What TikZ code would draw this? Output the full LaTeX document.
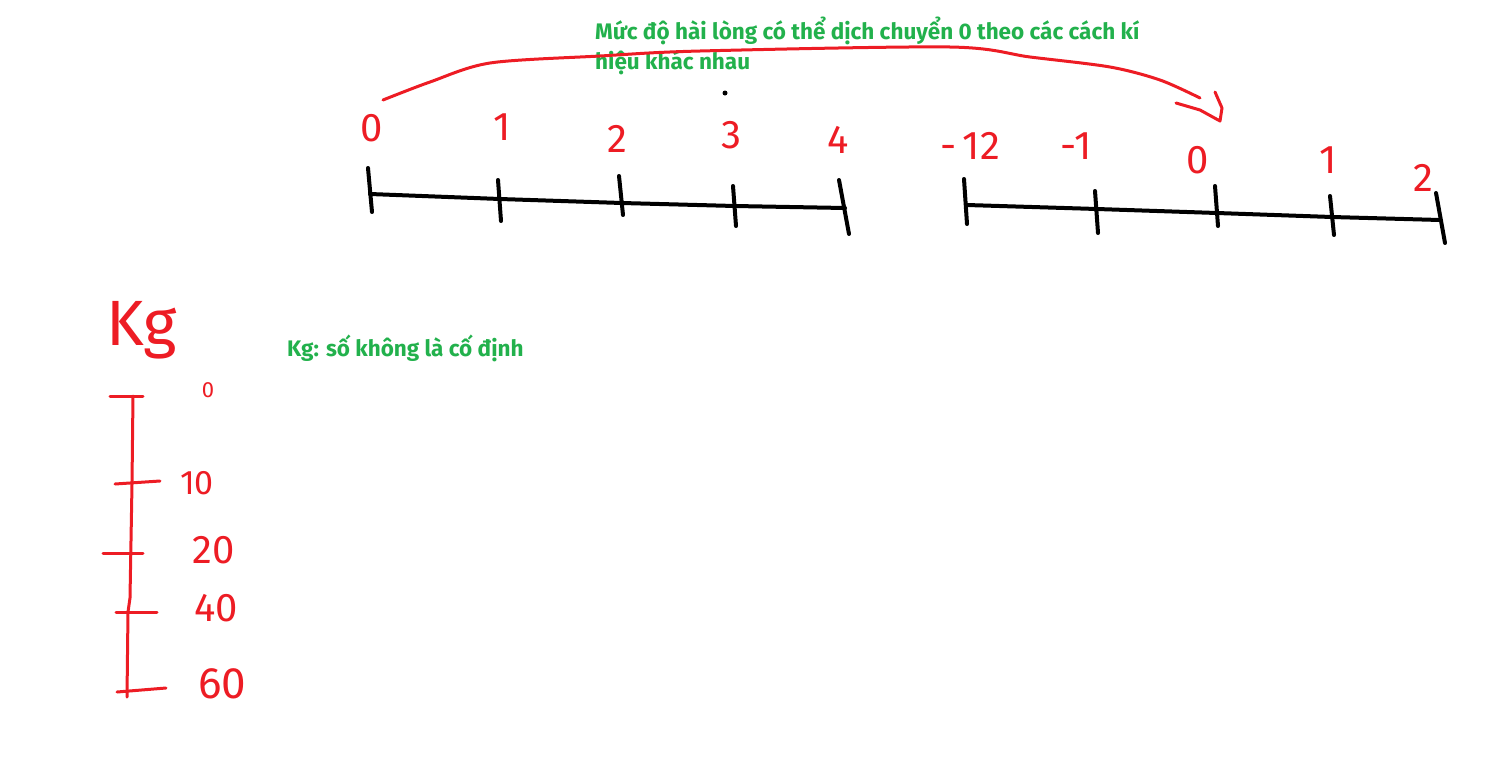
\documentclass[tikz,border=0pt]{standalone}
\usepackage{fontspec}
\setmainfont{Fira Sans}
\newfontfamily\handfont{Fira Sans}
\definecolor{pred}{HTML}{ED1C24}
\definecolor{pgreen}{HTML}{22B14C}
\tikzset{
  blk/.style={line width=4pt, black, line cap=round},
  redl/.style={line width=3pt, pred, line cap=round, line join=round},
  num/.style={text=pred, font=\handfont\fontsize{40}{40}\selectfont, inner sep=0pt},
  note/.style={text=pgreen, font=\bfseries\fontsize{22.5}{30}\selectfont, inner sep=0pt, align=left}
}
\begin{document}
\begin{tikzpicture}[x=1pt,y=-1pt]
\useasboundingbox (0,0) rectangle (1501,769);
% green notes
\node[note, anchor=north west] (note1) at (595,17) {Mức độ hài lòng có thể dịch chuyển 0 theo các cách kí\\hiệu khác nhau};
\node[note, anchor=west] (note2) at (287,348) {Kg: số không là cố định};
% first number line
\draw[blk] (370,194) -- (500,199) -- (622,203) -- (735,206) -- (845,208);
\draw[blk] (368,168) -- (372,212);
\draw[blk] (498,180) -- (501,221);
\draw[blk] (619,176) -- (623,215);
\draw[blk] (733,186) -- (736,226);
\draw[blk] (839,180) -- (849,234);
\node[num] (a0) at (372,128) {0};
\node[num] (a1) at (502,127) {1};
\node[num] (a2) at (617,139) {2};
\node[num] (a3) at (731,135) {3};
\node[num] (a4) at (838,140) {4};
\fill (725,93) circle (2.5);
% second number line
\draw[blk] (967,205) -- (1097,209) -- (1217,213) -- (1332,217) -- (1440,220);
\draw[blk] (964,179) -- (967,224);
\draw[blk] (1095,191) -- (1098,233);
\draw[blk] (1215,186) -- (1218,226);
\draw[blk] (1330,196) -- (1334,235);
\draw[blk] (1436,193) -- (1445,243);
\node[num] (bm2) at (970,146) {-\,12};
\node[num] (bm1) at (1076,146) {-1};
\node[num] (b0) at (1198,160) {0};
\node[num] (b1) at (1328,160) {1};
\node[num] (b2) at (1423,178) {2};
% arrow
\coordinate (arcS) at (383,100);
\coordinate (arcE) at (1220,121);
\draw[redl] plot[smooth, tension=0.5] coordinates {(arcS) (430,82) (490,63) (600,56) (700,51) (950,47) (1030,57) (1110,67) (1160,80) (1200,98)};
\draw[redl] (1176,103) -- (1200,110) -- (arcE) -- (1222,108) -- (1215,92);
% left vertical scale
\node[text=pred, font=\handfont\fontsize{64}{64}\selectfont, inner sep=0pt] (kg) at (142,330) {Kg};
\draw[redl] (133,396) -- (132,484) -- (130,598) -- (128,612) -- (127,697);
\draw[redl] (110,396) -- (143,396);
\draw[redl] (115,484) -- (160,481);
\draw[redl] (103,553) -- (143,553);
\draw[redl] (116,612) -- (157,612);
\draw[redl] (117,692) -- (166,688);
\node[num, font=\handfont\fontsize{22}{22}\selectfont] (c0) at (208,390) {0};
\node[num, font=\handfont\fontsize{34}{34}\selectfont] (c10) at (197,483) {10};
\node[num] (c20) at (214,550) {20};
\node[num] (c40) at (216,608) {40};
\node[num, font=\handfont\fontsize{44}{44}\selectfont] (c60) at (222,684) {60};
\end{tikzpicture}
\end{document}
